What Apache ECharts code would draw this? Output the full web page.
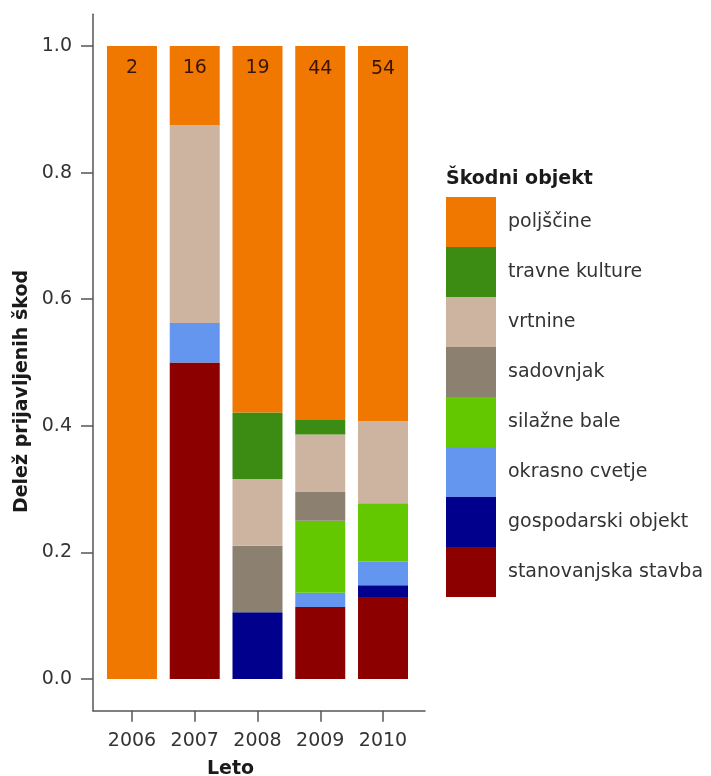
<!DOCTYPE html>
<html>
<head>
<meta charset="utf-8">
<script src="https://cdn.jsdelivr.net/npm/echarts@6/dist/echarts.min.js"></script>
<style>html,body{margin:0;padding:0;background:#fff}#c{width:711px;height:776px}</style>
</head>
<body>
<div id="c"></div>
<script>
var years = ['2006', '2007', '2008', '2009', '2010'];
var counts = [2, 16, 19, 44, 54];
var yTicks = [0, 0.2, 0.4, 0.6, 0.8, 1.0];

// proportions per year (2006..2010)
var stanovanjska = [0, 0.5, 0, 0.1136, 0.1296];
var gospodarski = [0, 0, 0.1053, 0, 0.0185];
var okrasno = [0, 0.0625, 0, 0.0227, 0.037];
var silazne = [0, 0, 0, 0.1136, 0.0926];
var sadovnjak = [0, 0, 0.1053, 0.0455, 0];
var vrtnine = [0, 0.3125, 0.1053, 0.0909, 0.1296];
var travne = [0, 0, 0.1053, 0.0227, 0];
var poljscine = [1, 0.125, 0.5789, 0.5909, 0.5926];

var seriesDefs = [
  {name: 'stanovanjska stavba', data: stanovanjska, color: '#8C0000'},
  {name: 'gospodarski objekt', data: gospodarski, color: '#00008C'},
  {name: 'okrasno cvetje', data: okrasno, color: '#6496F0'},
  {name: 'silažne bale', data: silazne, color: '#64C800'},
  {name: 'sadovnjak', data: sadovnjak, color: '#8C8070'},
  {name: 'vrtnine', data: vrtnine, color: '#CDB4A0'},
  {name: 'travne kulture', data: travne, color: '#3C8C14'},
  {name: 'poljščine', data: poljscine, color: '#F07800'}
];

var FONT = '"DejaVu Sans", "Liberation Sans", Arial, sans-serif';
var FS = 19;
var AX = '#555';

var series = seriesDefs.map(function (s, si) {
  var o = {
    name: s.name,
    type: 'bar',
    stack: 'all',
    barWidth: 50,
    xAxisIndex: 1,
    yAxisIndex: 1,
    itemStyle: {color: s.color},
    data: s.data
  };
  if (si === seriesDefs.length - 1) {
    o.label = {
      show: true,
      position: 'insideTop',
      distance: 13,
      fontSize: FS,
      fontFamily: FONT,
      color: '#3a1505',
      formatter: function (p) { return String(counts[p.dataIndex]); }
    };
  }
  return o;
});

var chart = echarts.init(document.getElementById('c'));
chart.setOption({
  backgroundColor: '#fff',
  animation: false,
  title: [{
    text: 'Škodni objekt',
    left: 446,
    top: 170,
    padding: 0,
    textStyle: {fontFamily: FONT, fontSize: FS, fontWeight: 'bold', color: '#1a1a1a'}
  }],
  legend: {
    orient: 'vertical',
    left: 446,
    top: 197,
    padding: 0,
    itemWidth: 50,
    itemHeight: 50,
    itemGap: 0,
    icon: 'rect',
    selectedMode: false,
    data: seriesDefs.map(function (s) { return s.name; }).reverse(),
    textStyle: {fontFamily: FONT, fontSize: FS, color: '#333', padding: [0, 0, 0, 7]}
  },
  grid: [
    {left: 93, top: 14.35, width: 332, height: 696.3, containLabel: false, outerBoundsMode: 'none'},
    {left: 100.6, top: 14.35, width: 313.8, height: 696.3, containLabel: false, outerBoundsMode: 'none'}
  ],
  xAxis: [{
    gridIndex: 0,
    type: 'value',
    min: 0, max: 1,
    axisLine: {show: true, onZero: false, lineStyle: {color: AX, width: 1.5}},
    axisTick: {show: false},
    axisLabel: {show: false},
    splitLine: {show: false}
  }, {
    gridIndex: 1,
    type: 'category',
    data: years,
    boundaryGap: true,
    name: 'Leto',
    nameLocation: 'middle',
    nameGap: 49,
    nameTextStyle: {fontFamily: FONT, fontSize: FS, fontWeight: 'bold', color: '#1a1a1a', padding: [0, 54, 0, 0]},
    axisLine: {show: false, onZero: false},
    axisTick: {show: true, interval: 0, alignWithLabel: true, length: 11, lineStyle: {color: AX, width: 1.5}},
    axisLabel: {interval: 0, hideOverlap: false, margin: 21, fontFamily: FONT, fontSize: FS, color: '#333'},
    splitLine: {show: false}
  }],
  yAxis: [{
    gridIndex: 0,
    type: 'value',
    min: -0.05,
    max: 1.05,
    name: 'Delež prijavljenih škod',
    nameLocation: 'middle',
    nameGap: 61,
    nameRotate: 90,
    nameTextStyle: {fontFamily: FONT, fontSize: FS, fontWeight: 'bold', color: '#1a1a1a', padding: [0, 58, 0, 0]},
    axisLine: {show: true, onZero: false, lineStyle: {color: AX, width: 1.5}},
    axisTick: {show: true, length: 12, customValues: yTicks, lineStyle: {color: AX, width: 1.5}},
    axisLabel: {
      customValues: yTicks,
      margin: 21,
      fontFamily: FONT, fontSize: FS, color: '#333',
      formatter: function (v) { return v.toFixed(1); }
    },
    splitLine: {show: false}
  }, {
    gridIndex: 1,
    type: 'value',
    min: -0.05,
    max: 1.05,
    show: false,
    splitLine: {show: false}
  }],
  series: series
});
</script>
</body>
</html>
